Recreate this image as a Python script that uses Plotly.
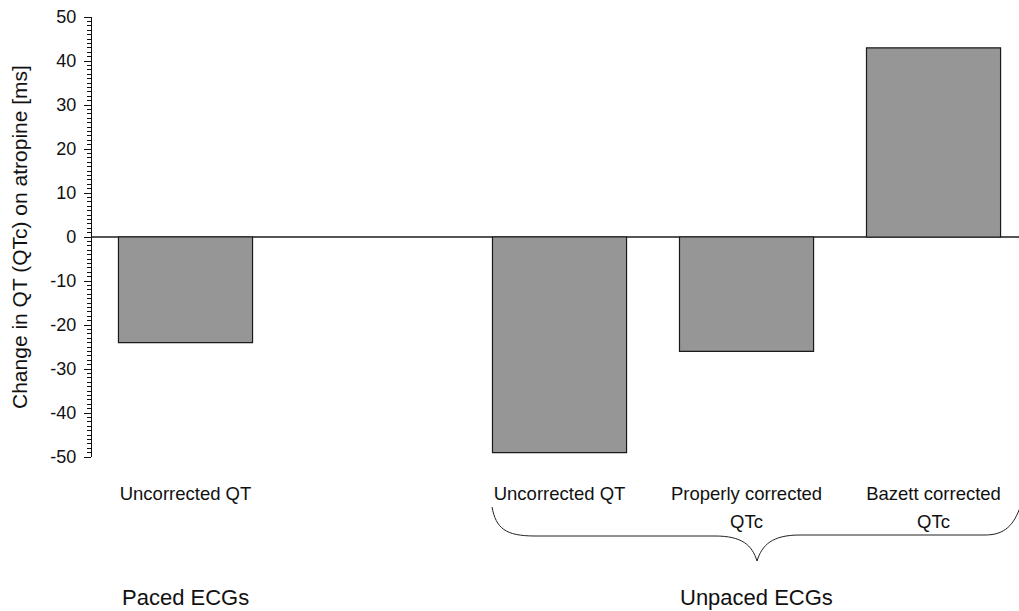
import plotly.graph_objects as go

# Bar slots (slot 1 is a deliberate blank between the two ECG groups)
slots = [0, 2, 3, 4]
values = [-24, -49, -26, 43]
tick_labels = ["Uncorrected QT", "Uncorrected QT", "Properly corrected", "Bazett corrected"]
tick_second_line = ["", "", "QTc", "QTc"]
group_labels = ["Paced ECGs", "Unpaced ECGs"]
y_ticks = [-50, -40, -30, -20, -10, 0, 10, 20, 30, 40, 50]
y_tick_text = ["-50", "-40", "-30", "-20", "-10", "0", "10", "20", "30", "40", "50"]
y_title = "Change in QT (QTc) on atropine [ms]"

W, H = 1019, 611
L, T, B = 92, 17, 154  # plot area: x 92..1019, y 17..457
PW, PH = W - L, H - T - B

def px(x):
    return (x - L) / PW

def py(y):
    return (H - B - y) / PH

FONT = "Liberation Sans, Arial, Helvetica, sans-serif"
INK = "#111111"

fig = go.Figure(
    go.Bar(
        x=slots,
        y=values,
        width=0.717,
        marker=dict(color="#969696", line=dict(color="#1a1a1a", width=1.2)),
        hoverinfo="skip",
    )
)

# Curly brace under the unpaced group
brace = (
    f"M {px(492)} {py(507)} "
    f"C {px(496)} {py(528)}, {px(505)} {py(536)}, {px(535)} {py(536)} "
    f"L {px(715)} {py(536)} "
    f"C {px(742)} {py(536)}, {px(752)} {py(545)}, {px(757)} {py(561)} "
    f"C {px(762)} {py(545)}, {px(772)} {py(535)}, {px(800)} {py(535)} "
    f"L {px(985)} {py(535)} "
    f"C {px(1005)} {py(535)}, {px(1014)} {py(525)}, {px(1021)} {py(505)}"
)

annotations = [
    dict(
        text=t, xref="x", yref="paper", x=s, y=py(521),
        showarrow=False, xanchor="center", yanchor="middle",
        font=dict(size=18.5, family=FONT, color=INK),
    )
    for s, t in zip(slots, tick_second_line) if t
]
annotations += [
    dict(
        text=group_labels[0], xref="paper", yref="paper", x=px(185), y=py(597),
        showarrow=False, xanchor="center", yanchor="middle",
        font=dict(size=22, family=FONT, color=INK),
    ),
    dict(
        text=group_labels[1], xref="paper", yref="paper", x=px(756), y=py(597),
        showarrow=False, xanchor="center", yanchor="middle",
        font=dict(size=22, family=FONT, color=INK),
    ),
    # y-axis title, placed explicitly so it sits close to the page edge
    dict(
        text=y_title, xref="paper", yref="paper", x=px(19), y=py(237),
        textangle=-90, showarrow=False, xanchor="center", yanchor="middle",
        font=dict(size=21, family=FONT, color=INK),
    ),
]

fig.update_layout(
    width=W,
    height=H,
    margin=dict(l=L, r=0, t=T, b=B),
    paper_bgcolor="white",
    plot_bgcolor="white",
    showlegend=False,
    font=dict(family=FONT, color=INK, size=18),
    xaxis=dict(
        range=[-0.5, 4.457],
        tickmode="array",
        tickvals=slots,
        ticktext=tick_labels,
        showline=False,
        showgrid=False,
        zeroline=False,
        ticks="",
        ticklabelstandoff=23,
        tickfont=dict(size=18.5, family=FONT, color=INK),
        fixedrange=True,
    ),
    yaxis=dict(
        range=[-50, 50],
        tickmode="array",
        tickvals=y_ticks,
        ticktext=y_tick_text,
        ticks="outside",
        ticklen=7,
        tickwidth=1,
        tickcolor=INK,
        showline=True,
        linecolor=INK,
        linewidth=1.2,
        showgrid=False,
        zeroline=True,
        zerolinecolor="#555555",
        zerolinewidth=1.5,
        tickfont=dict(size=18, family=FONT, color=INK),
        ticklabelstandoff=4,
        minor=dict(ticks="outside", dtick=1, ticklen=4, tickcolor=INK, tickwidth=1),
        fixedrange=True,
    ),
    shapes=[
        dict(
            type="path",
            xref="paper",
            yref="paper",
            path=brace,
            line=dict(color="#222222", width=1),
            layer="above",
        )
    ],
    annotations=annotations,
)

fig.write_html("out.html", config={"displayModeBar": False})
